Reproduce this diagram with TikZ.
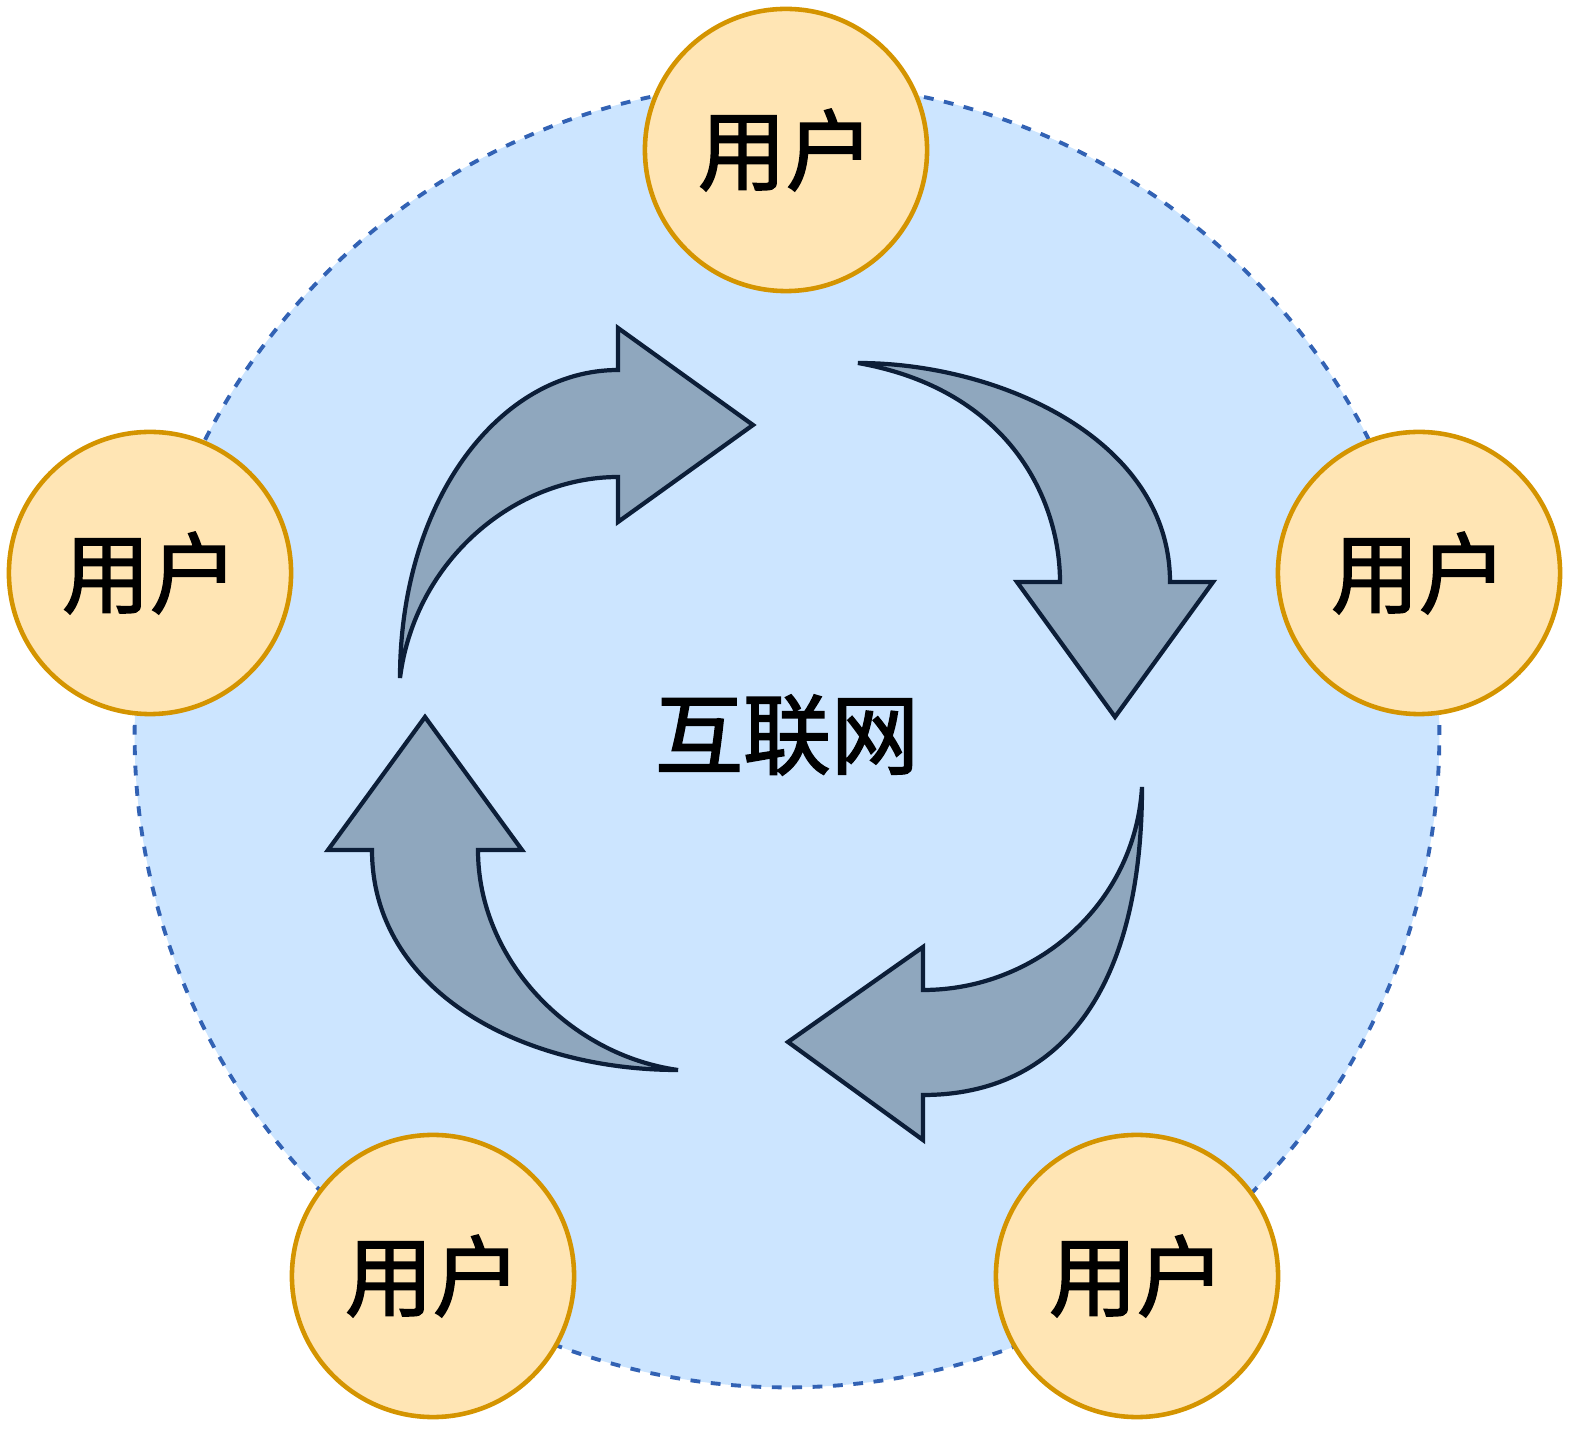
\documentclass[tikz,border=0pt]{standalone}
\usepackage{fontspec}
\newfontfamily\cjkfont{Noto Sans CJK SC}[FakeBold=2]
\definecolor{netfill}{RGB}{204, 229, 255}
\definecolor{netline}{RGB}{50, 98, 180}
\definecolor{userfill}{RGB}{255, 229, 180}
\definecolor{userline}{RGB}{212, 148, 0}
\definecolor{arrowfill}{RGB}{143, 167, 190}
\definecolor{arrowline}{RGB}{12, 30, 56}
\usetikzlibrary{positioning}

\tikzset{
  netcircle/.style={circle, draw=netline, fill=netfill, line width=1.1pt,
    dash pattern=on 2.8pt off 3pt, minimum size=13.04cm, inner sep=0pt,
    font=\cjkfont\fontsize{25}{30}\selectfont},
  usernode/.style={circle, draw=userline, fill=userfill, line width=1.3pt,
    minimum size=2.82cm, inner sep=0pt,
    font=\cjkfont\fontsize{25}{30}\selectfont},
  cyclearrow/.style={draw=arrowline, fill=arrowfill, line width=1.2pt},
}

\begin{document}
\begin{tikzpicture}[x=0.01cm, y=-0.01cm]
  \useasboundingbox (0,0) rectangle (1575,1437);

  % the network
  \node[netcircle] (net) at (787,735) {互联网};

  % circular arrows
  \filldraw[cyclearrow] (400,678) .. controls (400,500) and (500,370) .. (618,370)
    -- (618,328) -- (753,425) -- (618,522) -- (618,477)
    .. controls (515,477) and (415,560) .. (400,678) -- cycle;
  \filldraw[cyclearrow] (858,363) .. controls (1000,363) and (1170,440) .. (1170,582)
    -- (1213,582) -- (1115,717) -- (1017,582) -- (1060,582)
    .. controls (1060,500) and (1010,390) .. (858,363) -- cycle;
  \filldraw[cyclearrow] (1142,787) .. controls (1142,990) and (1060,1095) .. (923,1095)
    -- (923,1140) -- (788,1042) -- (923,947) -- (923,990)
    .. controls (1035,990) and (1135,905) .. (1142,787) -- cycle;
  \filldraw[cyclearrow] (678,1070) .. controls (520,1070) and (372,990) .. (372,850)
    -- (328,850) -- (425,717) -- (522,850) -- (478,850)
    .. controls (478,960) and (570,1055) .. (678,1070) -- cycle;

  % users
  \node[usernode] (usertop) at (786,150) {用户};
  \node[usernode] (userleft) at (150,573) {用户};
  \node[usernode] (userright) at (1419,573) {用户};
  \node[usernode] (userbotleft) at (433,1276) {用户};
  \node[usernode] (userbotright) at (1137,1276) {用户};
\end{tikzpicture}
\end{document}
